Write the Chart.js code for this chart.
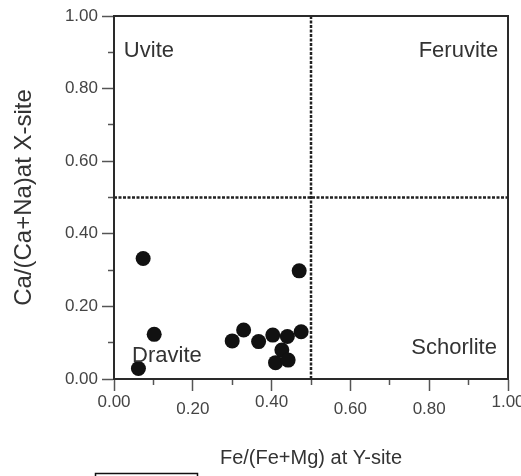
<!DOCTYPE html>
<html>
<head>
<meta charset="utf-8">
<script src="https://cdn.jsdelivr.net/npm/chart.js@4.4.0/dist/chart.umd.min.js"></script>
<style>
  html, body { margin: 0; padding: 0; background: #fff; }
  #wrap { width: 521px; height: 476px; position: relative; }
</style>
</head>
<body>
<div id="wrap"><canvas id="grafica"></canvas></div>
<script>
// Datos (turmalinas)
const feFeMg = [0.074, 0.470, 0.102, 0.062, 0.300, 0.329, 0.367, 0.403, 0.440, 0.475, 0.426, 0.410, 0.442];
const caCaNa = [0.332, 0.298, 0.123, 0.029, 0.105, 0.135, 0.103, 0.121, 0.117, 0.130, 0.080, 0.045, 0.052];
const xTickLabels = ["0.00", "0.20", "0.40", "0.60", "0.80", "1.00"];
const yTickLabels = ["0.00", "0.20", "0.40", "0.60", "0.80", "1.00"];
const divider = 0.5;
const regionNames = ["Uvite", "Feruvite", "Dravite", "Schorlite"];
const xTitle = "Fe/(Fe+Mg) at Y-site";
const yTitle = "Ca/(Ca+Na)at X-site";

const FONT = "'Liberation Sans', Arial, sans-serif";
const AXIS_COLOR = "#2a2a2a";
const TICK_COLOR = "#555";
// en la figura original algunas etiquetas del eje x quedan mas abajo
const LOWERED_X = [1, 3, 4];

function isMajor(value) {
  return Math.round(value * 10) % 2 === 0;
}

const extras = {
  id: "extras",
  afterDatasetsDraw(chart) {
    const { ctx, chartArea } = chart;
    const xs = chart.scales.x;
    const ys = chart.scales.y;

    ctx.save();
    ctx.strokeStyle = AXIS_COLOR;
    ctx.lineWidth = 2;
    ctx.strokeRect(chartArea.left, chartArea.top, chartArea.right - chartArea.left, chartArea.bottom - chartArea.top);

    ctx.fillStyle = "#333";
    ctx.font = "22px " + FONT;
    ctx.textBaseline = "alphabetic";
    ctx.textAlign = "left";
    ctx.fillText(regionNames[0], xs.getPixelForValue(0.025), ys.getPixelForValue(0.887));
    ctx.fillText(regionNames[2], xs.getPixelForValue(0.046), ys.getPixelForValue(0.047));
    ctx.textAlign = "right";
    ctx.fillText(regionNames[1], xs.getPixelForValue(0.975), ys.getPixelForValue(0.887));
    ctx.fillText(regionNames[3], xs.getPixelForValue(0.972), ys.getPixelForValue(0.069));

    // recuadro cortado al pie de la figura
    ctx.lineWidth = 1.5;
    ctx.strokeStyle = "#111";
    ctx.strokeRect(95.5, 473.5, 102, 12);
    ctx.restore();
  },
};

const graficaTurmalina = new Chart(document.getElementById("grafica"), {
  type: "scatter",
  data: {
    datasets: [
      {
        label: "Turmalinas",
        data: feFeMg.map((x, i) => ({ x, y: caCaNa[i] })),
        pointRadius: 7.5,
        pointHoverRadius: 7.5,
        backgroundColor: "#111",
        borderColor: "#111",
        borderWidth: 0,
        order: 0,
      },
      {
        type: "line",
        label: "limite vertical",
        data: [{ x: divider, y: 0 }, { x: divider, y: 1 }],
        borderColor: "#222",
        borderWidth: 2.5,
        borderDash: [3, 1.5],
        pointRadius: 0,
        order: 1,
      },
      {
        type: "line",
        label: "limite horizontal",
        data: [{ x: 0, y: divider }, { x: 1, y: divider }],
        borderColor: "#222",
        borderWidth: 2.5,
        borderDash: [3, 1.5],
        pointRadius: 0,
        order: 1,
      },
    ],
  },
  options: {
    responsive: true,
    maintainAspectRatio: false,
    animation: false,
    layout: { padding: { top: 16, right: 13, bottom: 0, left: 0 } },
    plugins: { legend: { display: false }, tooltip: { enabled: false } },
    scales: {
      x: {
        type: "linear",
        min: 0,
        max: 1,
        border: { display: true, color: AXIS_COLOR, width: 2 },
        grid: {
          drawOnChartArea: false,
          drawTicks: true,
          tickLength: 12,
          tickWidth: 1.5,
          tickColor: TICK_COLOR,
          tickBorderDash: (ctx) => (ctx.tick && isMajor(ctx.tick.value) ? [] : [5, 200]),
        },
        ticks: {
          stepSize: 0.1,
          padding: 8,
          maxRotation: 0,
          autoSkip: false,
          color: "#444",
          font: { family: FONT, size: 17, lineHeight: 0.4 },
          callback: (value) => {
            if (!isMajor(value)) return "";
            const idx = Math.round(value * 5);
            return LOWERED_X.includes(idx) ? ["", xTickLabels[idx]] : xTickLabels[idx];
          },
        },
        title: {
          display: true,
          text: xTitle,
          color: "#333",
          font: { family: FONT, size: 20 },
          padding: { top: 0, bottom: 6 },
        },
        afterFit: (scale) => {
          scale.height = 476 - 379;
          scale.paddingLeft = 0;
          scale.paddingRight = 0;
        },
      },
      y: {
        type: "linear",
        min: 0,
        max: 1,
        border: { display: true, color: AXIS_COLOR, width: 2 },
        grid: {
          drawOnChartArea: false,
          drawTicks: true,
          tickLength: 12,
          tickWidth: 1.5,
          tickColor: TICK_COLOR,
          tickBorderDash: (ctx) => (ctx.tick && isMajor(ctx.tick.value) ? [] : [6, 200]),
          tickBorderDashOffset: (ctx) => (ctx.tick && isMajor(ctx.tick.value) ? 0 : -6),
        },
        ticks: {
          stepSize: 0.1,
          padding: 4,
          autoSkip: false,
          color: "#444",
          font: { family: FONT, size: 17 },
          callback: (value) => (isMajor(value) ? yTickLabels[Math.round(value * 5)] : ""),
        },
        title: {
          display: true,
          text: yTitle,
          color: "#333",
          font: { family: FONT, size: 24 },
          padding: { top: 10, bottom: 0 },
        },
        afterFit: (scale) => {
          scale.width = 114;
          scale.paddingTop = 0;
          scale.paddingBottom = 0;
        },
      },
    },
  },
  plugins: [extras],
});
</script>
</body>
</html>
